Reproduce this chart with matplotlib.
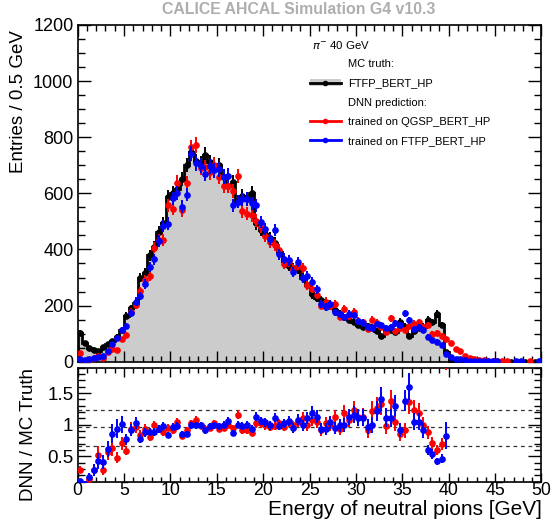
import numpy as np
import matplotlib
matplotlib.use("Agg")
import matplotlib.pyplot as plt
from matplotlib.lines import Line2D
from matplotlib.patches import Patch
from matplotlib.ticker import MultipleLocator

plt.rcParams['font.family'] = ['Liberation Sans', 'DejaVu Sans']

# 0.5 GeV bins from 0 to 50 GeV
bin_edges = np.arange(0.0, 50.01, 0.5)

# MC truth (FTFP_BERT_HP), entries per bin
truth_ftfp = [
    103, 66, 48, 42, 39, 51, 63, 74, 89, 113,
    164, 190, 208, 300, 315, 380, 410, 463, 493, 586,
    600, 614, 650, 701, 749, 715, 705, 737, 710, 689,
    700, 660, 626, 640, 570, 590, 580, 600, 493, 470,
    454, 440, 424, 390, 360, 341, 335, 329, 300, 275,
    240, 228, 220, 210, 199, 185, 170, 158, 150, 143,
    130, 125, 128, 123, 110, 93, 108, 112, 105, 143,
    125, 93, 110, 119, 125, 149, 140, 170, 131, 34,
    0, 0, 0, 0, 0, 0, 0, 0, 0, 0,
    0, 0, 0, 0, 0, 0, 0, 0, 0, 0,
]

# DNN / MC truth in the bins below 40 GeV
ratio_qgsp = [
    0.29, 0.06, 0.14, 0.28, 0.52, 0.29, 0.57, 0.63, 0.48, 0.71,
    0.59, 0.94, 0.97, 0.84, 0.93, 0.80, 0.99, 0.94, 0.88, 0.95,
    0.91, 1.04, 0.83, 0.91, 1.02, 1.08, 0.98, 0.94, 0.95, 1.02,
    0.94, 0.95, 1.00, 0.95, 1.16, 0.91, 0.91, 0.87, 1.02, 1.02,
    0.99, 0.97, 0.98, 1.02, 0.97, 1.05, 0.99, 1.05, 1.11, 0.99,
    1.08, 1.05, 0.91, 1.02, 1.00, 1.12, 0.94, 1.19, 1.08, 1.24,
    1.12, 1.12, 0.91, 1.22, 1.27, 1.33, 0.98, 1.38, 1.05, 0.85,
    0.91, 1.36, 1.23, 1.19, 0.99, 0.88, 0.71, 0.60, 0.69, 2.35,
]
ratio_ftfp = [
    0.11, 0.07, 0.17, 0.29, 0.43, 0.41, 0.62, 0.86, 0.94, 1.01,
    0.77, 0.91, 1.03, 0.78, 0.88, 0.89, 0.89, 0.93, 0.98, 0.84,
    0.97, 0.98, 0.85, 0.85, 0.99, 0.99, 0.99, 0.91, 0.98, 0.99,
    0.98, 1.00, 1.06, 0.87, 1.00, 0.98, 1.00, 0.94, 1.13, 1.06,
    1.04, 0.99, 1.11, 0.98, 1.02, 1.06, 0.95, 1.08, 0.99, 1.11,
    1.19, 1.13, 0.94, 0.93, 1.04, 0.95, 0.99, 1.00, 1.13, 1.16,
    1.11, 1.11, 0.97, 0.99, 1.22, 1.41, 1.11, 1.11, 1.30, 0.91,
    1.38, 1.60, 1.05, 1.05, 0.91, 0.60, 0.54, 0.42, 0.46, 0.83,
]

# DNN entries above 40 GeV, where the truth is empty
tail_qgsp = [65, 45, 39, 21, 12, 8, 6, 5, 3, 3, 2, 1, 1, 0, 0, 0, 0, 2, 0, 0]
tail_ftfp = [16, 10, 8, 6, 4, 3, 2, 2, 2, 1, 1, 0, 0, 0, 2, 2, 0, 0, 0, 1]

ratio_bands = [0.67, 0.96, 1.24]

GREY = '#cccccc'
RED = '#ff0000'
BLUE = '#0000ff'
TITLE_GREY = '#aeaeae'

truth = np.array(truth_ftfp, dtype=float)
n_ratio = len(ratio_qgsp)
pred_qgsp = np.concatenate([truth[:n_ratio] * np.array(ratio_qgsp), tail_qgsp])
pred_ftfp = np.concatenate([truth[:n_ratio] * np.array(ratio_ftfp), tail_ftfp])
centers = 0.5 * (bin_edges[:-1] + bin_edges[1:])

W, H = 553, 519
fig = plt.figure(figsize=(W / 100, H / 100), dpi=100)
left, right = 77.6 / W, 541.5 / W
ax = fig.add_axes([left, 1 - 361.7 / H, right - left, (361.7 - 25) / H])
axr = fig.add_axes([left, 1 - 481.7 / H, right - left, (481.7 - 367.8) / H])

# --- main panel ---
ax.stairs(truth, bin_edges, fill=True, color=GREY, lw=0, zorder=1)
ax.stairs(truth, bin_edges, color='black', lw=2.0, zorder=2)
ax.errorbar(centers, truth, yerr=np.sqrt(truth), fmt='o', color='black',
            ms=3.8, lw=1.4, capsize=0, zorder=3)

def draw_pred(a, values, color, z):
    m = values > 0
    a.errorbar(centers[m], values[m], yerr=np.sqrt(values[m]), fmt='o',
               color=color, ms=3.8, lw=1.4, capsize=0, zorder=z)

draw_pred(ax, pred_qgsp, RED, 4)
draw_pred(ax, pred_ftfp, BLUE, 5)

ax.set_xlim(0, 50)
ax.set_ylim(0, 1200)
ax.set_ylabel('Entries / 0.5 GeV', fontsize=13.5, loc='top')
ax.yaxis.set_label_coords(-0.11, 0.985)

# legend
blank = Line2D([], [], linestyle='none')
truth_handle = (Patch(facecolor=GREY, edgecolor='none'),
                Line2D([], [], color='black', lw=2, marker='o', ms=3))
red_handle = Line2D([], [], color=RED, lw=2, marker='o', ms=3)
blue_handle = Line2D([], [], color=BLUE, lw=2, marker='o', ms=3)
leg = ax.legend([blank, truth_handle, blank, red_handle, blue_handle],
                ['MC truth:', 'FTFP_BERT_HP', 'DNN prediction:',
                 'trained on QGSP_BERT_HP', 'trained on FTFP_BERT_HP'],
                loc='upper left', bbox_to_anchor=(0.5, 0.898), frameon=False,
                fontsize=8.0, handlelength=2.8, handletextpad=0.63,
                labelspacing=0.82, borderpad=0, borderaxespad=0)
ax.text(0.505, 0.94, r'$\pi^{-}$ 40 GeV', transform=ax.transAxes,
        fontsize=8.2, va='center', ha='left')

fig.text((left + right) / 2 - 0.019, 1 - 10 / H, 'CALICE AHCAL Simulation G4 v10.3',
         ha='center', va='center', fontsize=11.4, fontweight='bold',
         color=TITLE_GREY)

# --- ratio panel ---
for yv in ratio_bands:
    axr.axhline(yv, color='#333333', lw=0.9, ls=(0, (3, 3)), zorder=1)

t = truth[:n_ratio]
for vals, color, z in ((pred_qgsp, RED, 4), (pred_ftfp, BLUE, 5)):
    p = vals[:n_ratio]
    r = p / t
    err = r * np.sqrt(1.0 / np.maximum(p, 1) + 1.0 / t)
    axr.errorbar(centers[:n_ratio], r, yerr=err, fmt='o', color=color,
                 ms=3.8, lw=1.4, capsize=0, zorder=z)

axr.set_xlim(0, 50)
axr.set_ylim(0.1, 1.9)
axr.set_ylabel('DNN / MC Truth', fontsize=13.5, loc='top')
axr.yaxis.set_label_coords(-0.088, 1.0)
axr.set_xlabel('Energy of neutral pions [GeV]', fontsize=15, loc='right')
axr.xaxis.label.set_va('baseline')
axr.xaxis.set_label_coords(1.0, -0.292)

# ROOT-style frames and ticks
for a, ymaj, ymin, xmaj_len, ymaj_len in ((ax, 200, 50, 8, 9.5), (axr, 0.5, 0.1, 6.5, 9.5)):
    a.xaxis.set_major_locator(MultipleLocator(5))
    a.xaxis.set_minor_locator(MultipleLocator(1))
    a.yaxis.set_major_locator(MultipleLocator(ymaj))
    a.yaxis.set_minor_locator(MultipleLocator(ymin))
    a.tick_params(which='both', direction='in', top=True, right=True, width=1.0)
    a.tick_params(axis='x', which='major', length=xmaj_len)
    a.tick_params(axis='x', which='minor', length=xmaj_len / 2)
    a.tick_params(axis='y', which='major', length=ymaj_len)
    a.tick_params(axis='y', which='minor', length=ymaj_len / 2)
    for s in a.spines.values():
        s.set_linewidth(1.2)

axr.set_yticks([0.5, 1.0, 1.5])
axr.set_yticklabels(['0.5', '1', '1.5'])
ax.tick_params(axis='x', labelbottom=False)
ax.tick_params(axis='y', labelsize=13, pad=3)
axr.tick_params(axis='y', labelsize=13.5, pad=3)
axr.tick_params(axis='x', labelsize=12.8, pad=0.5)

fig.savefig('out.png', dpi=100)
